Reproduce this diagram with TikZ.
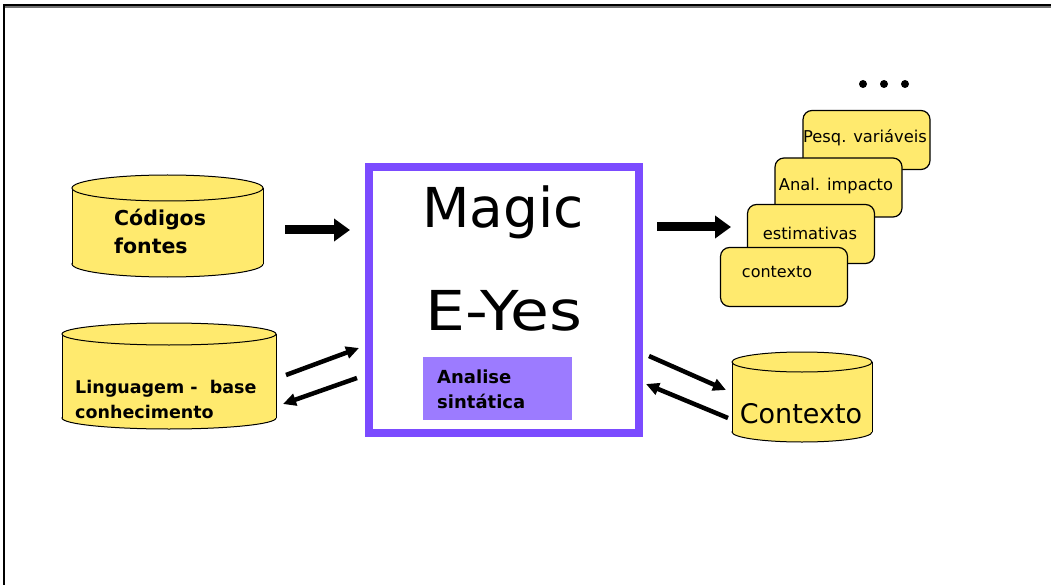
\documentclass[tikz,border=0pt]{standalone}
\usepackage{fontspec}
\setmainfont{DejaVu Sans}
\usetikzlibrary{arrows.meta}
\definecolor{dbyellow}{HTML}{FFEA6E}
\definecolor{eyeviolet}{HTML}{7B4BFF}
\definecolor{eyelilac}{HTML}{9C7BFF}
\tikzset{
  fatarrow/.style={line width=9pt,-{Triangle[length=16pt,width=22pt]}},
  slimarrow/.style={line width=4.5pt,-{Triangle[length=13pt,width=12pt]}},
  card/.style={draw=black,line width=1.2pt,fill=dbyellow,rounded corners=9pt,
    minimum width=127pt,minimum height=59pt,inner sep=0pt},
  cardtext/.style={font=\fontsize{16.3}{18}\selectfont},
  dbtext/.style={align=left,inner sep=0pt}
}
% cylinder: left x, right x, top-ellipse centre y, bottom-ellipse centre y, y radius
\newcommand{\dbcyl}[5]{%
  \pgfmathsetmacro{\cx}{(#1+#2)/2}\pgfmathsetmacro{\rx}{(#2-#1)/2}%
  \filldraw[fill=dbyellow,draw=black,line width=1pt] (\cx,#4) ellipse [x radius=\rx,y radius=#5];
  \fill[dbyellow] (#1,#3) rectangle (#2,#4);
  \draw[line width=1pt] (#1,#3) -- (#1,#4) (#2,#3) -- (#2,#4);
  \filldraw[fill=dbyellow,draw=black,line width=1pt] (\cx,#3) ellipse [x radius=\rx,y radius=#5];
}
\begin{document}
\begin{tikzpicture}[x=1pt,y=-1pt]
\useasboundingbox (0,0) rectangle (1051,585);
% page frame
\draw[line width=2pt,black!55] (3,7.5) -- (1051,7.5);
\draw[line width=2pt] (3,5.5) -- (1051,5.5);
\draw[line width=2pt] (4,5) -- (4,585);

% data stores
\dbcyl{72}{263}{188}{264}{13}
\node[dbtext,anchor=west,font=\bfseries\fontsize{20.5}{28}\selectfont] (codigos) at (114,231) {Códigos\\fontes};
\dbcyl{62}{276}{334}{418}{11}
\node[dbtext,anchor=west,font=\bfseries\fontsize{17.5}{25}\selectfont] (ling) at (75,399) {Linguagem -\ \ base\\conhecimento};
\dbcyl{732}{872}{362}{432}{10}
\node[inner sep=0pt,font=\fontsize{27}{30}\selectfont] (ctx) at (801,414) {Contexto};

% central tool
\node[draw=eyeviolet,line width=8pt,minimum width=270pt,minimum height=266pt,inner sep=0pt] (eyes) at (504,300) {};
\node[font=\fontsize{55}{60}\selectfont,inner sep=0pt] (magic) at (503,212) {Magic};
\node[font=\fontsize{55}{60}\selectfont,inner sep=0pt] (ey) at (504,311) {\scalebox{1.15}[1]{E-Yes}};
\node[fill=eyelilac,minimum width=149pt,minimum height=63pt,inner sep=0pt] (sint) at (497.5,388.5) {};
\node[dbtext,anchor=west,font=\bfseries\fontsize{18}{25}\selectfont] (sinttxt) at (437,389) {Analise\\sintática};

% outputs
\node[card] (pesq) at (866.5,140) {};
\node[cardtext] at (865,138) {Pesq. variáveis};
\node[card] (anal) at (838.5,187.5) {};
\node[cardtext] at (836,186) {Anal. impacto};
\node[card] (estim) at (811,234) {};
\node[cardtext] at (810,233) {estimativas};
\node[card] (cont) at (784,277) {};
\node[cardtext,font=\fontsize{16}{18}\selectfont] at (777,272) {contexto};
\foreach \dx in {863,884,905} \fill (\dx,84) circle (4pt);

% flows
\coordinate (a1s) at (285,230); \coordinate (a1e) at (350,230);
\draw[fatarrow] (a1s) -- (a1e);
\coordinate (a2s) at (657,227); \coordinate (a2e) at (731,227);
\draw[fatarrow] (a2s) -- (a2e);
\coordinate (l1s) at (286,375); \coordinate (l1e) at (359,348);
\draw[slimarrow] (l1s) -- (l1e);
\coordinate (l2s) at (357,378); \coordinate (l2e) at (283,404);
\draw[slimarrow] (l2s) -- (l2e);
\coordinate (r1s) at (649,356); \coordinate (r1e) at (726,390);
\draw[slimarrow] (r1s) -- (r1e);
\coordinate (r2s) at (728,418); \coordinate (r2e) at (646,384);
\draw[slimarrow] (r2s) -- (r2e);
\end{tikzpicture}
\end{document}
